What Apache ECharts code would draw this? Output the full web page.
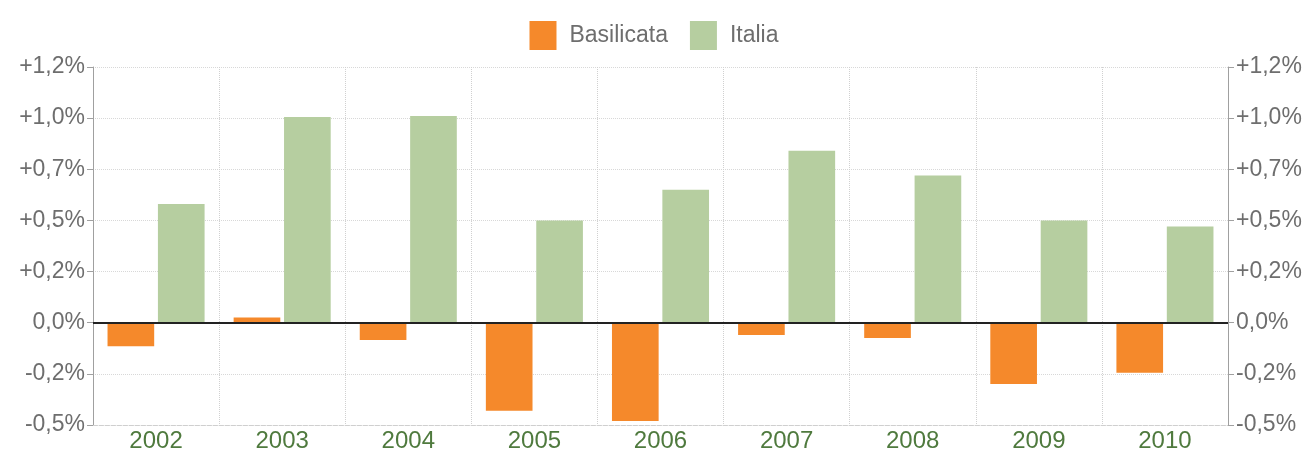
<!DOCTYPE html>
<html><head><meta charset="utf-8">
<script src="https://cdn.jsdelivr.net/npm/echarts@6/dist/echarts.min.js"></script>
<style>html,body{margin:0;padding:0;background:#fff}#c{width:1308px;height:457px}</style>
</head><body><div id="c"></div>
<script>
const years = ['2002','2003','2004','2005','2006','2007','2008','2009','2010'];
const basilicata = [-0.115, 0.025, -0.085, -0.43, -0.48, -0.06, -0.075, -0.30, -0.245];
const italia = [0.58, 1.005, 1.01, 0.50, 0.65, 0.84, 0.72, 0.50, 0.47];
const yTickValues = [-0.5, -0.25, 0, 0.25, 0.5, 0.75, 1.0, 1.25];
const yTickLabels = ['-0,5%', '-0,2%', '0,0%', '+0,2%', '+0,5%', '+0,7%', '+1,0%', '+1,2%'];

function fmt(v){
  for (let i=0;i<yTickValues.length;i++) if (Math.abs(yTickValues[i]-v)<1e-6) return yTickLabels[i];
  return '';
}
const FONT = 'Liberation Sans';
const yAxisBase = {
  type:'value', min:-0.5, max:1.25, interval:0.25,
  axisLine:{show:true, lineStyle:{color:'#a0a0a0', width:1}},
  axisTick:{show:true, length:6, lineStyle:{color:'#a0a0a0'}},
  axisLabel:{formatter:fmt, color:'#6e6e6e', fontSize:23, fontFamily:FONT, margin:8},
};
const chart = echarts.init(document.getElementById('c'));
chart.setOption({
  animation:false,
  legend:{
    top:16, left:'center', itemWidth:27, itemHeight:29, itemGap:22, icon:'rect',
    textStyle:{color:'#6e6e6e', fontSize:23, fontFamily:FONT, padding:[0,0,0,8]},
    data:['Basilicata','Italia']
  },
  grid:{left:93, right:80, top:67, bottom:32},
  xAxis:{
    type:'category', data:years,
    axisLine:{show:true, onZero:false, lineStyle:{color:'#cfcfcf', type:'dashed'}},
    axisTick:{show:false},
    axisLabel:{color:'#4f7a3e', fontSize:24, fontFamily:FONT, margin:4},
    splitLine:{show:true, lineStyle:{color:'#d0d0d0', type:'dotted'}}
  },
  yAxis:[
    Object.assign({}, yAxisBase, {position:'left', splitLine:{show:true, lineStyle:{color:'#d8d8d8', type:'dotted'}}}),
    Object.assign({}, yAxisBase, {position:'right', splitLine:{show:false}})
  ],
  series:[
    {name:'Basilicata', type:'bar', data:basilicata, barWidth:'37%', barGap:'8%',
     itemStyle:{color:'#f5892b'},
     markLine:{silent:true, symbol:'none', label:{show:false},
       lineStyle:{color:'#222', width:2, type:'solid'}, data:[{yAxis:0}]}},
    {name:'Italia', type:'bar', data:italia, barWidth:'37%', barGap:'8%',
     itemStyle:{color:'#b6cea0'}}
  ]
});
</script></body></html>
